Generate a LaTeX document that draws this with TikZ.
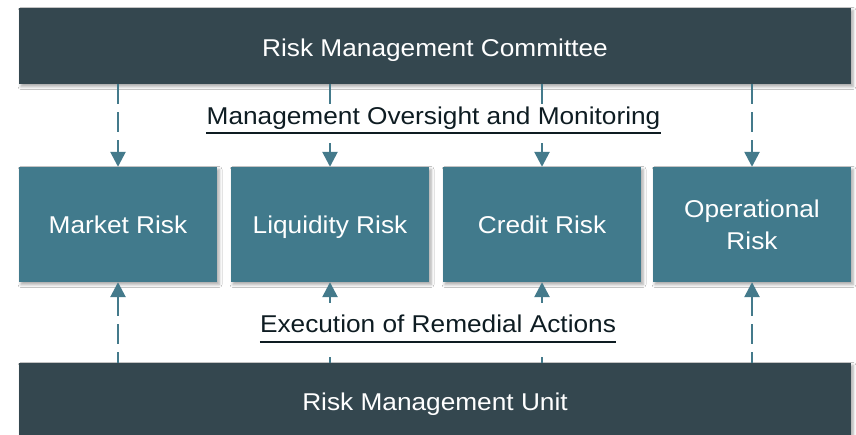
\documentclass[tikz,border=0pt]{standalone}
\usepackage{fontspec}
\setmainfont{Liberation Sans}[FakeStretch=1.08]
\usetikzlibrary{arrows.meta,shadows.blur}

\definecolor{slate}{HTML}{34474F}
\definecolor{riskteal}{HTML}{417A8C}
\definecolor{arrowteal}{HTML}{447A8B}
\definecolor{ink}{HTML}{0E1C22}

\begin{document}
\begin{tikzpicture}[x=1pt,y=1pt,
  box/.style={rectangle, inner sep=0pt, text=white,
    font=\fontsize{24.3}{32}\selectfont,
    blur shadow={shadow xshift=2pt, shadow yshift=-2.5pt,
      shadow blur radius=3pt, shadow opacity=35}},
  headbox/.style={box, fill=slate, minimum width=832pt},
  riskbox/.style={box, fill=riskteal, minimum width=198pt, minimum height=115pt},
  oneline/.style={text height=17.4pt, text depth=0pt},
  flow/.style={draw=arrowteal, line width=2.6pt,
    dash pattern=on 20pt off 8pt,
    -{Triangle[width=15pt,length=15pt]}},
  caption/.style={text=ink, fill=white, inner sep=0pt, anchor=base,
    font=\fontsize{24.3}{32}\selectfont},
  ul/.style={draw=ink, line width=1.2pt}]

\clip (0,0) rectangle (856,435);
\fill[white] (0,0) rectangle (856,435);

% committee and unit bars
\node[headbox, minimum height=76pt, text height=21.4pt, text depth=0pt]
  (rmc) at (435,389) {Risk Management Committee};
\node[headbox, minimum height=78pt, oneline]
  (rmu) at (435,33) {Risk Management Unit};

% the four risk areas
\node[riskbox, oneline] (mkt) at (118,210.5) {Market Risk};
\node[riskbox, oneline] (liq) at (330,210.5) {Liquidity Risk};
\node[riskbox, oneline] (cred) at (542,210.5) {Credit Risk};
\node[riskbox, align=center] (ops) at (752,210.5) {Operational\\Risk};

% oversight flows downwards
\foreach \b in {mkt,liq,cred,ops}
  \draw[flow] (rmc.south -| \b.north) -- (\b.north);

% remedial actions flow upwards
\foreach \b in {mkt,liq,cred,ops}
  \draw[flow, dash phase=9pt] (rmu.north -| \b.south) -- (\b.south);

% captions on a white ground, with underline
\node[caption, text height=21pt, text depth=18pt]
  (over) at (433.5,310) {Management Oversight and Monitoring};
\draw[ul] ([yshift=-8pt]over.base west) -- ([yshift=-8pt]over.base east);
\node[caption, text height=30pt, text depth=24pt]
  (exec) at (438,102) {Execution of Remedial Actions};
\draw[ul] ([yshift=-9pt]exec.base west) -- ([yshift=-9pt]exec.base east);

\end{tikzpicture}
\end{document}
